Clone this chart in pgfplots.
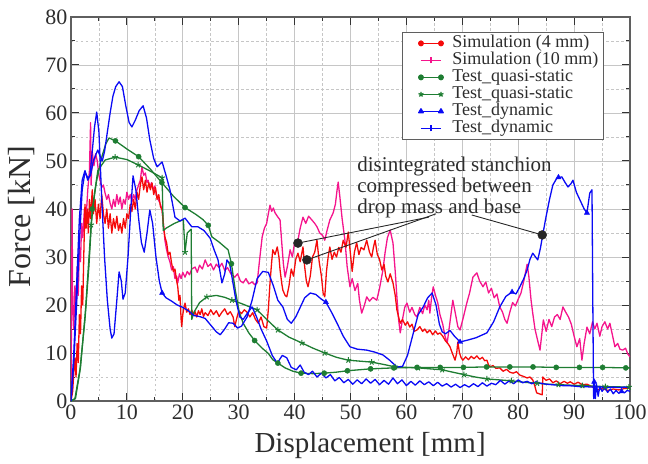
\documentclass[border=0pt]{standalone}
\usepackage{fontspec}
\setmainfont{Liberation Serif}
\usepackage{pgfplots}
\pgfplotsset{compat=1.18}

\definecolor{simred}{RGB}{245,10,10}
\definecolor{simpink}{RGB}{245,20,140}
\definecolor{qsgreen}{RGB}{30,125,50}
\definecolor{dynblue}{RGB}{10,10,245}
\definecolor{framec}{RGB}{95,95,95}
\definecolor{txt}{RGB}{45,45,45}

\newcommand\ticklabelfont{\fontsize{22bp}{22bp}\selectfont}
\newcommand\xlabelfont{\fontsize{29bp}{29bp}\selectfont}
\newcommand\ylabelfont{\fontsize{32bp}{32bp}\selectfont}
\newcommand\legendfont{\fontsize{18bp}{18bp}\selectfont}
\newcommand\annfont{\fontsize{21bp}{21bp}\selectfont}

\pgfplotsset{
  endmarks legend/.style={legend image code/.code={\path (-14bp,0bp); \draw[##1] plot coordinates {(0bp,0bp) (20bp,0bp)};}},
  midmark legend/.style={legend image code/.code={\path (-14bp,0bp); \draw[##1] (0bp,0bp) -- (20bp,0bp); \draw[##1] (10bp,-3bp) -- (10bp,3bp);}},
  curve/.style={line width=1.3bp, line join=round},
}

\begin{document}
\begin{tikzpicture}
\begin{axis}[
  name=ax, at={(0,0)}, anchor=south west,
  scale only axis, width=559bp, height=384bp,
  xmin=0, xmax=100, ymin=0, ymax=80,
  xtick={0,10,...,100}, ytick={0,10,...,80},
  minor x tick num=1, minor y tick num=1,
  grid=both,
  major grid style={draw=gray!45, line width=0.7bp},
  minor grid style={draw=gray!45, line width=0.6bp, dash pattern=on 2.5bp off 2.5bp},
  tick align=inside,
  major tick length=8bp, minor tick length=4bp,
  tick style={draw=black!80, line width=1bp},
  axis line style={draw=framec, line width=1.3bp},
  tick label style={font=\ticklabelfont, text=txt},
  /pgf/number format/assume math mode=true,
  xlabel={Displacement [mm]}, ylabel={Force [kN]},
  label style={text=txt},
  xlabel style={font=\xlabelfont, at={(axis description cs:0.535,-0.115)}, anchor=center},
  ylabel style={font=\ylabelfont, at={(axis description cs:-0.088,0.48)}, anchor=center},
  legend cell align=left,
  legend style={at={(rel axis cs:0.592,0.961)}, anchor=north west,
    draw=framec, line width=0.8bp, font=\legendfont, text=txt,
    inner xsep=4bp, inner ysep=2bp, row sep=-1bp,
    /tikz/every odd column/.append style={column sep=8bp},
    nodes={inner sep=1bp, text height=12.5bp, text depth=3.5bp}},
]

% Simulation, 10 mm mesh
\addplot[curve, simpink, forget plot] coordinates {
(0,0) (0.2,40) (0.3,20) (0.5,15) (0.7,24) (0.9,18) (1.1,28) (1.3,22) (1.5,32) (1.7,29) (1.9,37) (2.1,34) (2.4,40) (2.7,38) (3.0,44) (3.3,48) (3.5,58) (3.6,45) (3.8,52) (4.1,49) (4.4,51.5) (4.7,50) (5.0,47) (5.2,46) (5.5,44.5) (5.8,45) (6.1,43.3) (6.4,42) (6.7,43) (7.0,41.2) (7.3,40) (7.6,42) (7.9,40.5) (8.2,43) (8.5,41) (8.8,42.5) (9.1,40) (9.4,42) (9.7,41) (10.0,43.5) (10.3,42) (10.6,43) (10.9,41.5) (11.2,43) (11.5,42) (11.8,44) (12.1,45) (12.4,46) (12.7,48.8) (13.0,47) (13.3,47.5) (13.6,45.5) (13.8,46) (14.1,44.5) (14.4,45.5) (14.7,44) (15.0,44.8) (15.3,43) (15.6,42) (16.0,41) (16.3,39.8) (16.6,36) (16.8,33.5) (17.1,31.5) (17.4,30) (17.7,29) (18.0,27.3) (18.3,28) (18.6,25.5) (18.9,26) (19.1,24.6) (19.4,26.5) (19.7,25.5) (20.0,26.8) (20.4,25.8) (20.8,27) (21.2,26.3) (21.6,27.5) (22.2,27.9) (22.6,26.8) (23.0,28.3) (23.5,27.5) (24.0,29.4) (24.5,28) (25.0,28.6) (25.5,27.3) (26.0,28.5) (26.5,27.8) (27.0,28.7) (27.5,27.2) (28.0,27.8) (28.6,26.5) (29.3,25.8) (29.8,26.5) (30.3,25) (30.8,24.6) (31.3,25.5) (31.8,24.4) (32.4,24.8) (32.9,24.2) (33.3,24.6) (33.7,29) (34.2,34.2) (34.6,36) (35.0,37) (35.3,39) (35.6,40.8) (35.9,39.5) (36.2,40.2) (36.5,39.2) (36.9,38.5) (37.4,37.7) (37.7,33) (38.0,28.5) (38.3,25.8) (38.7,28) (39.2,31.5) (39.6,30) (40.0,33) (40.6,33.5) (41.0,36) (41.5,38.3) (42.0,37) (42.5,38.5) (43.1,37.7) (43.6,37) (44.0,36.3) (44.5,35) (45.0,34.5) (45.4,33.5) (45.8,35.5) (46.3,37.7) (46.9,39.2) (47.3,41) (47.6,44) (47.8,45.6) (48.1,42.5) (48.5,38) (49.0,33.5) (49.4,28) (49.9,23.8) (50.3,25.5) (50.8,23) (51.3,24.5) (51.6,21) (52.0,18.3) (52.5,20) (52.9,21.7) (53.4,20.8) (54.0,21.6) (54.7,21) (55.2,23.5) (55.8,27.3) (56.2,31) (56.6,34) (57.1,35.6) (57.6,32.9) (58.0,27) (58.3,21.7) (58.6,17) (58.9,14.2) (59.3,17) (59.7,19.5) (60.1,20.4) (60.6,18.5) (61.0,19.5) (61.5,18) (61.9,17.5) (62.4,19.5) (62.9,18.2) (63.3,20) (63.7,19) (64.0,21) (64.2,18.3) (64.5,21.5) (64.8,23.8) (65.2,22) (65.6,20.5) (66.0,18) (66.5,16) (66.9,13.5) (67.3,12.1) (67.8,16.5) (68.3,21) (68.8,18) (69.2,15.5) (69.6,14.8) (70.2,17.5) (70.8,20.4) (71.3,22.5) (71.9,25.8) (72.6,26.7) (73.1,25) (73.7,23.8) (74.2,24.8) (74.7,22.5) (75.2,23.5) (75.7,21.5) (76.2,22.3) (76.7,19.6) (77.2,18.5) (77.6,17) (78.0,16.2) (78.5,18.5) (79.0,20.5) (79.5,19.8) (80.0,21.2) (80.5,22.5) (81.0,25) (81.6,28.5) (81.9,26) (82.3,21) (82.6,18.3) (83.0,15) (83.5,12.5) (83.9,10.6) (84.5,16.9) (85.0,14.5) (85.5,17) (86.0,15.5) (86.5,17.5) (87.0,18) (87.5,17) (88.0,19.6) (88.5,18.5) (89.0,17.5) (89.5,16) (90.0,13.5) (90.5,11.3) (91.0,13) (91.4,8.5) (91.8,12) (92.3,15.4) (92.8,14) (93.3,16.5) (93.7,15) (94.1,16.2) (94.6,13.5) (95.0,15.5) (95.5,16.5) (96.0,15) (96.4,16.2) (96.9,13.5) (97.3,11.3) (97.8,12) (98.2,10.8) (98.7,10.6) (99.2,11) (99.6,9.8) (100,9.2)
};

% Simulation, 4 mm mesh
\addplot[curve, simred, forget plot] coordinates {
(0,0) (0.3,2) (0.5,6) (0.7,9) (0.9,5) (1.1,12) (1.3,8) (1.5,18) (1.7,14) (1.9,24) (2.1,20) (2.3,31) (2.5,41) (2.7,36) (2.9,40) (3.1,35) (3.3,42) (3.5,38) (3.8,44) (4.0,39) (4.3,42) (4.6,37) (4.9,41) (5.2,38) (5.5,43) (5.8,39) (6.1,37) (6.4,40) (6.7,36) (7.0,39) (7.3,35) (7.6,38) (7.9,36) (8.2,38.5) (8.5,35.5) (8.8,37) (9.1,35) (9.4,38) (9.7,36) (10.0,39) (10.3,38) (10.6,41) (10.9,39.5) (11.2,42) (11.5,40) (11.8,43.5) (12.1,42) (12.4,45) (12.7,46.7) (13.0,44) (13.3,46) (13.6,43.5) (13.9,45.5) (14.2,44) (14.5,45.4) (14.8,43) (15.1,44.5) (15.4,42) (15.7,43) (16.0,40.5) (16.3,39.8) (16.6,36) (16.8,34.2) (17.1,33) (17.4,30.5) (17.7,31) (18.0,28.7) (18.3,27) (18.6,27.5) (18.9,25) (19.1,23.8) (19.3,21) (19.5,22) (19.7,17) (19.8,15.5) (20.0,18) (20.2,19.5) (20.4,20.4) (20.7,18.5) (21.0,19.2) (21.3,18) (21.6,19) (21.9,17.8) (22.2,18.6) (22.5,17.5) (22.8,18.8) (23.1,18) (23.4,19.2) (23.7,17.6) (24.0,18.4) (24.5,17.8) (25.0,19) (25.5,18) (26.0,18.8) (26.5,17.6) (27.0,18.5) (27.5,19.2) (28.0,18) (28.5,18.6) (29.0,17.5) (29.3,15.5) (29.6,17) (30.0,18.8) (30.5,18.2) (31.0,19) (31.5,18.5) (32.0,17.5) (32.5,18.4) (33.0,17) (33.5,16.2) (34.0,17.5) (34.5,15.5) (35.0,15.2) (35.3,19) (35.6,24.6) (35.9,29) (36.1,31.5) (36.5,30.5) (36.9,32.1) (37.2,30) (37.4,27.3) (37.7,24.5) (37.9,23.1) (38.3,22) (38.6,21.7) (39.0,24) (39.4,27.5) (39.8,26) (40.2,29.5) (40.6,30.8) (41.0,29) (41.5,32.1) (41.8,28) (42.1,25) (42.4,23.8) (42.8,26) (43.2,30) (43.6,31) (44.0,33.5) (44.4,29) (44.8,26) (45.1,22.5) (45.4,21.7) (45.7,27) (46.0,30) (46.3,32.1) (46.7,29.5) (47.1,31) (47.5,30) (47.9,32) (48.3,31) (48.7,33.5) (49.2,32) (49.6,35.2) (50.0,30.5) (50.3,27) (50.7,31) (51.1,33) (51.5,30.5) (51.9,32) (52.4,31.5) (52.9,33.5) (53.4,31) (53.8,30) (54.1,32) (54.4,33.5) (54.8,30.5) (55.2,29.5) (55.6,27.3) (56.0,28.5) (56.3,26) (56.7,24.8) (57.1,26.5) (57.6,24.6) (58.0,22) (58.3,19) (58.6,17.5) (58.9,16.2) (59.3,17) (59.8,15.8) (60.2,16.5) (60.6,15.4) (61.0,16) (61.4,14.5) (61.9,14.8) (62.4,15.5) (62.9,14.5) (63.3,15) (63.7,14.2) (64.2,14.8) (64.7,13.8) (65.2,14.6) (65.6,13.9) (66.0,14.2) (66.5,13.5) (67.0,12.5) (67.4,12) (67.8,11.3) (68.2,10) (68.7,8.5) (69.0,10) (69.2,12.3) (69.5,10) (69.8,9) (70.1,8.5) (70.6,9.2) (71.1,8.6) (71.6,9.3) (72.1,8.8) (72.6,9.4) (73.1,8.7) (73.6,9.1) (74.0,8.4) (74.4,8.5) (74.7,7.5) (75.0,7.1) (75.5,7.4) (76.0,6.8) (76.7,6.9) (77.3,6.2) (77.9,6.6) (78.5,6) (79.1,5.8) (79.7,6.1) (80.3,5.4) (81.0,5.1) (81.6,4.8) (82.1,5) (82.6,4.4) (83.0,3) (83.3,1.7) (84.0,1.4) (84.3,1.3) (84.4,5) (85.0,4.3) (85.6,4.6) (86.2,3.8) (86.8,4.2) (87.5,3.6) (88.2,4.1) (88.8,3.7) (89.3,4) (90.0,3.5) (90.7,3.9) (91.5,3.4) (92.3,3.5) (93.2,3) (94.1,2.3) (95.0,2.6) (96.0,2.2) (97.0,2.5) (98.0,2.3) (99.0,2.6) (100,2.7)
};

% Quasi-static test, first specimen (circles)
\addplot[curve, qsgreen, forget plot] coordinates {
(0,0) (0.7,0.5) (1.6,6.5) (2.5,17) (3.2,28) (3.8,40) (4.6,46) (5.5,50.8) (6.2,53.5) (6.8,54.8) (7.95,54.2) (10,52.5) (12.1,50.9) (14.2,48.3) (16.25,45.5) (18.3,42.7) (20.4,40.3) (22.3,38.9) (23.6,37.8) (24.55,36.6) (25.2,34.2) (26.5,33.1) (28.1,31.5) (28.7,28.6) (29.4,23) (30.1,18.5) (30.8,16.2) (31.8,14.2) (32.85,12.6) (34.2,11) (35.3,9.9) (36.1,8.6) (37,7.9) (38.3,6.9) (39.7,6.2) (41.15,5.8) (43.2,5.7) (45.3,5.8) (47.4,6) (49.45,6.3) (51.5,6.5) (53.6,6.7) (55.7,6.8) (57.75,6.9) (61.9,7) (66.05,7) (70.2,7) (74.35,7.1) (78.5,7.1) (82.65,7.1) (86.8,7) (90.95,7) (95.1,7) (99.25,6.9) (100,6.9)
};
\addplot[only marks, mark=*, mark size=2.6bp, qsgreen, forget plot] coordinates {
(3.8,40) (7.95,54.2) (12.1,50.9) (16.25,45.5) (20.4,40.3) (24.55,36.6) (28.7,28.6) (32.85,12.6) (37,7.9) (41.15,5.8) (45.3,5.8) (49.45,6.3) (53.6,6.7) (57.75,6.9) (61.9,7) (66.05,7) (70.2,7) (74.35,7.1) (78.5,7.1) (82.65,7.1) (86.8,7) (90.95,7) (95.1,7) (99.25,6.9)
};

% Quasi-static test, second specimen (stars)
\addplot[curve, qsgreen, forget plot] coordinates {
(0,0) (0.8,0.5) (1.7,7) (2.6,19) (3.6,36.7) (4.3,44) (4.8,48) (6.1,50.2) (7.9,50.8) (10,50.3) (12,49.2) (14,48) (16.3,46.5) (16.5,35.5) (17,36) (18.5,37) (20.1,37.8) (20.4,31) (20.8,35) (21.5,35.8) (21.6,17) (22,18.5) (23,20.5) (24.3,21.7) (26,22) (27.5,21.6) (28.8,21) (30.5,20.3) (32,19.6) (33.3,19) (35,17) (37,14.8) (39,13.3) (41.3,12.1) (43.3,11) (45.4,10) (47.5,9.1) (49.6,8.5) (51.7,8.3) (53.8,8.1) (56,7.6) (58,7.1) (60,7) (62.1,6.9) (64.2,6.7) (66.4,6.5) (68.3,6) (70.3,5.5) (72.3,5) (74.4,4.6) (76.6,4.4) (78.8,4.2) (81,3.9) (83.4,3.7) (85.3,3.5) (87.2,3.4) (89.4,3.3) (91.5,3.2) (93.6,3.1) (95.6,3) (97.7,2.95) (100,2.9)
};
\addplot[only marks, mark=star, mark size=3bp, line width=1bp, qsgreen, forget plot] coordinates {
(3.6,36.7) (7.9,50.8) (12,49.2) (16.3,46.5) (20.4,31) (24.3,21.7) (28.8,21) (33.3,19) (37,14.8) (41.3,12.1) (45.4,10) (49.6,8.5) (53.8,8.1) (58,7.1) (62.1,6.9) (66.4,6.5) (70.3,5.5) (74.4,4.6) (78.8,4.2) (83.4,3.7) (87.2,3.4) (91.5,3.2) (95.6,3) (99.8,2.9)
};

% Dynamic test, first specimen (triangles)
\addplot[curve, dynblue, forget plot] coordinates {
(0,0) (0.5,10) (1,24) (1.5,38) (2,46) (2.5,48) (3,46) (3.4,47) (3.8,52) (4.2,57) (4.6,60.2) (5,56) (5.5,42) (6,30) (6.5,21) (7,15) (7.3,13.1) (7.7,14) (8.2,21) (8.6,26.9) (9,25) (9.3,21.2) (9.7,22.5) (10.2,30) (10.7,40) (11.1,46.9) (11.6,44) (12.1,38) (12.6,33) (13.1,31) (13.6,35) (14.1,39.8) (14.6,37) (15.2,30) (15.8,25) (16.3,22.5) (17,21.5) (18,20.8) (19,20) (20,19.5) (21,18.8) (22,17.8) (23,17.6) (24,17.2) (25,15.8) (26,14.4) (26.7,13.8) (27.5,15) (28.2,16.3) (29,16.2) (29.8,15.2) (30.5,15.6) (31.5,17.5) (32.4,21) (33.3,25.5) (34.3,27) (35.3,26.8) (36.2,24) (37,21) (37.9,19.6) (38.7,17) (39.4,16.2) (40.2,17.5) (41,19.5) (41.8,21.5) (42.8,22.5) (43.8,22.2) (44.8,21.2) (45.6,20.6) (46.6,18.5) (47.6,16.2) (48.7,13.5) (49.9,11.3) (51.2,10.8) (52.9,10.6) (54.3,10.2) (55.8,9.6) (57,8.5) (58.3,7.1) (59.3,7.2) (60.2,9.5) (61.2,14) (62.1,18) (63,19.6) (63.8,21.5) (64.6,22.5) (65.3,20) (65.9,16) (66.4,14.4) (67,14) (67.8,14.7) (68.6,13.5) (69.6,12.3) (71,12.7) (72.5,13.2) (74.4,14.2) (75.6,16.5) (76.7,19.6) (77.8,21.8) (78.9,22.7) (79.6,22.3) (80.3,23.8) (81,25.5) (81.6,27.3) (82.1,29.5) (82.6,30.8) (83.1,30) (83.5,29.4) (84,32) (84.4,34.7) (85,38.5) (85.6,42) (86.2,45) (86.9,46.4) (87.8,46.7) (88.4,45.5) (88.9,44.6) (89.4,45.2) (89.8,46) (90.4,43.5) (91.2,41.5) (91.8,40) (92.3,39.2) (92.8,43.3) (93.2,44) (93.35,20) (93.45,6) (93.5,0.5) (93.6,4) (93.8,0.5) (94,3.5) (94.3,1) (94.6,3) (95,2) (95.5,2.8) (96,1.8) (96.5,2.5) (97,1.5) (97.5,2.2) (98,1.6) (98.5,2) (99,1.7) (99.5,2.2) (100,2)
};
\addplot[only marks, mark=triangle*, mark size=3bp, dynblue, forget plot] coordinates {
(16.3,22.5) (45.6,20.6) (69.6,12.3) (78.9,22.7) (87.2,46.6) (92.3,39.2) (93.6,4) (98.5,2)
};

% Dynamic test, second specimen
\addplot[curve, dynblue, forget plot] coordinates {
(0,0) (0.5,8) (1,20) (1.5,33) (2,44) (2.5,47.7) (3,46.5) (3.5,47) (4,50) (4.5,51.5) (4.8,52.3) (5.2,51) (5.6,50) (6,52) (6.5,56) (7,60) (7.5,63.5) (8,65.5) (8.6,66.5) (9.2,65.5) (9.8,61.5) (10.4,58) (10.9,57.1) (11.5,58.5) (12.2,60.5) (12.9,61.5) (13.5,59) (14.1,54.4) (14.8,50.5) (15.4,48.8) (16.3,49.8) (17,47) (17.7,44) (18.6,38.3) (19.5,37.5) (20.4,38.1) (21.6,36.3) (22.7,36.3) (23.8,35.5) (24.9,33.9) (25.6,31.5) (26.3,29.4) (27,24.6) (27.5,26.5) (27.9,29.4) (28.4,28.5) (28.8,25.8) (29.5,21) (30.2,17.5) (30.8,17) (31.5,18.2) (32.4,19.6) (33.2,17.5) (34,15) (35,12.5) (36,9.5) (36.9,7.9) (37.8,9.5) (38.6,9) (39.4,7) (40.3,6.5) (41,7.5) (41.7,6) (42.5,5.5) (43.2,6.2) (44,5) (44.8,5.8) (45.6,4.8) (46.4,5.5) (47.2,4.2) (48,4.9) (48.8,3.8) (49.6,4.5) (50.4,3.5) (51.2,4.4) (52,3.6) (52.8,4.6) (53.6,3.7) (54.4,4.5) (55.2,3.4) (56,4.3) (56.8,3.5) (57.6,4.8) (58.4,3.6) (59.2,4.4) (60,3.2) (60.8,4.1) (61.6,3.3) (62.4,4.2) (63.2,3.4) (64,4.0) (64.8,3.2) (65.6,3.9) (66.4,3.1) (67.2,3.6) (68,2.9) (68.8,3.5) (69.6,2.8) (70.4,3.4) (71.2,2.9) (72,3.6) (72.8,3) (73.6,3.8) (74.4,3.1) (75.2,3.7) (76,3.4) (76.8,4.3) (77.6,3.5) (78.4,4.2) (79.2,3.6) (80,4.4) (80.8,3.8) (81.6,4.1) (82.4,3.6) (83.2,4) (84,3.7) (85,3.5) (86,3.4) (87,3.3) (88,3.2) (89,3.2) (90,3.1) (91,3) (92,3) (93,2.9) (94,2.9) (95,2.9) (96,2.8) (97,2.9) (98,2.8) (99,2.9) (100,2.8)
};

% Callout: leader lines and dots
\addplot[black!85, line width=0.9bp, forget plot] coordinates {(40.6,32.9) (64.0,38.3)};
\addplot[black!85, line width=0.9bp, forget plot] coordinates {(42.2,29.4) (65.3,39.0)};
\addplot[black!85, line width=0.9bp, forget plot] coordinates {(71.7,38.75) (84.3,34.6)};
\addplot[only marks, mark=*, mark size=4.5bp, black!85, forget plot] coordinates {(40.6,32.9) (42.2,29.4) (84.3,34.6)};
\node[anchor=north west, align=left, font=\annfont, text=txt, inner sep=0pt] at (axis cs:51.2,50.8)
  {disintegrated stanchion\\compressed between\\drop mass and base};

% Legend
\addlegendimage{curve, simred, mark=*, mark size=2.3bp, endmarks legend}
\addlegendentry{Simulation (4 mm)}
\addlegendimage{curve, simpink, midmark legend}
\addlegendentry{Simulation (10 mm)}
\addlegendimage{curve, qsgreen, mark=*, mark size=2.3bp, endmarks legend}
\addlegendentry{Test\_quasi-static}
\addlegendimage{curve, qsgreen, mark=star, mark size=2.6bp, endmarks legend}
\addlegendentry{Test\_quasi-static}
\addlegendimage{curve, dynblue, mark=triangle*, mark size=2.6bp, endmarks legend}
\addlegendentry{Test\_dynamic}
\addlegendimage{curve, dynblue, midmark legend}
\addlegendentry{Test\_dynamic}
\end{axis}
\pgfresetboundingbox
\path (-71bp,-63bp) rectangle (577bp,401bp);
\end{tikzpicture}
\end{document}
